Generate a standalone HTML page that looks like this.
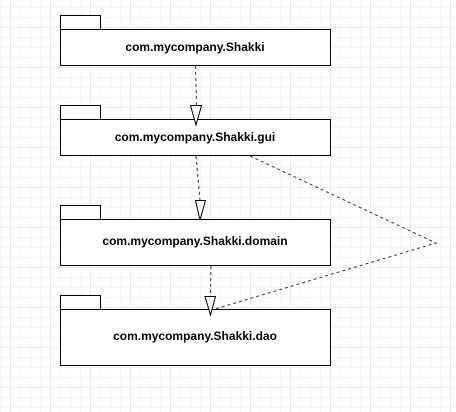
<!DOCTYPE html>
<html><head><style>
html,body{margin:0;padding:0;background:#fff;}
body{width:456px;height:412px;overflow:hidden;position:relative;
background-image:
linear-gradient(#e8e8e8 1px,transparent 1px),
linear-gradient(90deg,#e8e8e8 1px,transparent 1px),
linear-gradient(#f4f4f4 1px,transparent 1px),
linear-gradient(90deg,#f4f4f4 1px,transparent 1px);
background-size:40px 40px,40px 40px,10px 10px,10px 10px;
background-position:0 27px,10px 0,0 7px,0 0;}
svg{position:absolute;left:0;top:0;}
text{font-family:"Liberation Sans",sans-serif;font-size:12px;font-weight:bold;fill:#000;}
</style></head><body>
<svg width="456" height="412" viewBox="0 0 456 412">
<g fill="#fff" stroke="#000" stroke-width="1">
<rect x="60.5" y="15.5" width="40" height="14"/>
<rect x="60.5" y="29.5" width="270" height="36"/>
<rect x="60.5" y="105.5" width="40" height="14"/>
<rect x="60.5" y="119.5" width="270" height="36"/>
<rect x="60.5" y="205.5" width="40" height="14"/>
<rect x="60.5" y="219.5" width="270" height="46"/>
<rect x="60.5" y="295.5" width="40" height="14"/>
<rect x="60.5" y="309.5" width="270" height="56"/>
</g>
<text x="195" y="51" text-anchor="middle">com.mycompany.Shakki</text>
<text x="195" y="141" text-anchor="middle">com.mycompany.Shakki.gui</text>
<text x="195" y="245" text-anchor="middle">com.mycompany.Shakki.domain</text>
<text x="195" y="340" text-anchor="middle">com.mycompany.Shakki.dao</text>
<g fill="none" stroke="#333" stroke-width="1" stroke-dasharray="3,3">
<path d="M195.5 66 L196.5 106"/>
<path d="M196 156 L200 200"/>
<path d="M211 266 L210.5 296"/>
<path d="M250 156 L436 243 L215 309"/>
</g>
<g fill="#fff" stroke="#000" stroke-width="1">
<path d="M190.5 105.5 L201.5 105.5 L196 125 Z"/>
<path d="M195.5 200.5 L205.5 200.5 L200 220 Z"/>
<path d="M205 296.5 L215.5 296.5 L210.5 315 Z"/>
</g>
</svg>
</body></html>
